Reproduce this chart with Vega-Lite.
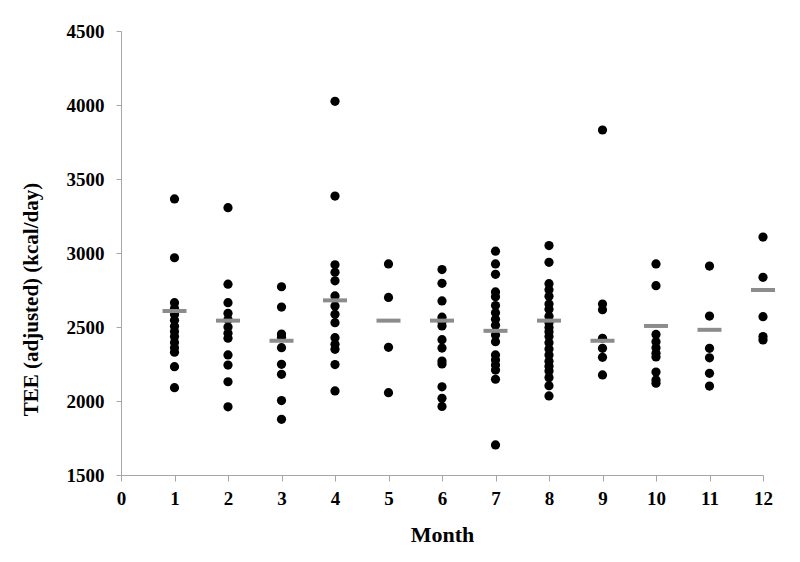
{
  "$schema": "https://vega.github.io/schema/vega-lite/v6.json",
  "width": 642,
  "height": 444,
  "autosize": "none",
  "padding": {"left": 121, "top": 31, "right": 37, "bottom": 87},
  "background": "white",
  "config": {
    "view": {"stroke": null},
    "font": "Liberation Serif"
  },
  "datasets": {
    "points": [
      {"month": 1, "tee": 3365}, {"month": 1, "tee": 2968}, {"month": 1, "tee": 2664}, {"month": 1, "tee": 2625}, {"month": 1, "tee": 2585}, {"month": 1, "tee": 2545}, {"month": 1, "tee": 2505}, {"month": 1, "tee": 2470}, {"month": 1, "tee": 2435}, {"month": 1, "tee": 2395}, {"month": 1, "tee": 2360}, {"month": 1, "tee": 2330}, {"month": 1, "tee": 2232}, {"month": 1, "tee": 2090},
      {"month": 2, "tee": 3306}, {"month": 2, "tee": 2789}, {"month": 2, "tee": 2664}, {"month": 2, "tee": 2593}, {"month": 2, "tee": 2550}, {"month": 2, "tee": 2500}, {"month": 2, "tee": 2457}, {"month": 2, "tee": 2424}, {"month": 2, "tee": 2311}, {"month": 2, "tee": 2243}, {"month": 2, "tee": 2130}, {"month": 2, "tee": 1961},
      {"month": 3, "tee": 2772}, {"month": 3, "tee": 2635}, {"month": 3, "tee": 2452}, {"month": 3, "tee": 2430}, {"month": 3, "tee": 2360}, {"month": 3, "tee": 2248}, {"month": 3, "tee": 2180}, {"month": 3, "tee": 2003}, {"month": 3, "tee": 1876},
      {"month": 4, "tee": 4025}, {"month": 4, "tee": 3385}, {"month": 4, "tee": 2920}, {"month": 4, "tee": 2870}, {"month": 4, "tee": 2812}, {"month": 4, "tee": 2710}, {"month": 4, "tee": 2642}, {"month": 4, "tee": 2586}, {"month": 4, "tee": 2529}, {"month": 4, "tee": 2428}, {"month": 4, "tee": 2383}, {"month": 4, "tee": 2349}, {"month": 4, "tee": 2246}, {"month": 4, "tee": 2068},
      {"month": 5, "tee": 2926}, {"month": 5, "tee": 2700}, {"month": 5, "tee": 2363}, {"month": 5, "tee": 2056},
      {"month": 6, "tee": 2888}, {"month": 6, "tee": 2795}, {"month": 6, "tee": 2676}, {"month": 6, "tee": 2566}, {"month": 6, "tee": 2536}, {"month": 6, "tee": 2507}, {"month": 6, "tee": 2414}, {"month": 6, "tee": 2358}, {"month": 6, "tee": 2270}, {"month": 6, "tee": 2250}, {"month": 6, "tee": 2096}, {"month": 6, "tee": 2018}, {"month": 6, "tee": 1963},
      {"month": 7, "tee": 3012}, {"month": 7, "tee": 2926}, {"month": 7, "tee": 2856}, {"month": 7, "tee": 2737}, {"month": 7, "tee": 2705}, {"month": 7, "tee": 2645}, {"month": 7, "tee": 2596}, {"month": 7, "tee": 2552}, {"month": 7, "tee": 2512}, {"month": 7, "tee": 2446}, {"month": 7, "tee": 2401}, {"month": 7, "tee": 2311}, {"month": 7, "tee": 2277}, {"month": 7, "tee": 2243}, {"month": 7, "tee": 2209}, {"month": 7, "tee": 2147}, {"month": 7, "tee": 1703},
      {"month": 8, "tee": 3050}, {"month": 8, "tee": 2937}, {"month": 8, "tee": 2793}, {"month": 8, "tee": 2752}, {"month": 8, "tee": 2708}, {"month": 8, "tee": 2655}, {"month": 8, "tee": 2620}, {"month": 8, "tee": 2572}, {"month": 8, "tee": 2529}, {"month": 8, "tee": 2497}, {"month": 8, "tee": 2468}, {"month": 8, "tee": 2436}, {"month": 8, "tee": 2394}, {"month": 8, "tee": 2352}, {"month": 8, "tee": 2310}, {"month": 8, "tee": 2268}, {"month": 8, "tee": 2234}, {"month": 8, "tee": 2202}, {"month": 8, "tee": 2158}, {"month": 8, "tee": 2103}, {"month": 8, "tee": 2034},
      {"month": 9, "tee": 3831}, {"month": 9, "tee": 2655}, {"month": 9, "tee": 2617}, {"month": 9, "tee": 2424}, {"month": 9, "tee": 2356}, {"month": 9, "tee": 2295}, {"month": 9, "tee": 2176},
      {"month": 10, "tee": 2926}, {"month": 10, "tee": 2779}, {"month": 10, "tee": 2450}, {"month": 10, "tee": 2400}, {"month": 10, "tee": 2360}, {"month": 10, "tee": 2322}, {"month": 10, "tee": 2298}, {"month": 10, "tee": 2196}, {"month": 10, "tee": 2142}, {"month": 10, "tee": 2120},
      {"month": 11, "tee": 2912}, {"month": 11, "tee": 2574}, {"month": 11, "tee": 2356}, {"month": 11, "tee": 2292}, {"month": 11, "tee": 2187}, {"month": 11, "tee": 2101},
      {"month": 12, "tee": 3108}, {"month": 12, "tee": 2836}, {"month": 12, "tee": 2570}, {"month": 12, "tee": 2435}, {"month": 12, "tee": 2413}
    ],
    "means": [
      {"month": 1, "mean": 2608}, {"month": 2, "mean": 2543}, {"month": 3, "mean": 2407}, {"month": 4, "mean": 2680},
      {"month": 5, "mean": 2543}, {"month": 6, "mean": 2543}, {"month": 7, "mean": 2474}, {"month": 8, "mean": 2543},
      {"month": 9, "mean": 2407}, {"month": 10, "mean": 2507}, {"month": 11, "mean": 2481}, {"month": 12, "mean": 2750}
    ]
  },
  "encoding": {
    "x": {
      "type": "quantitative",
      "scale": {"domain": [0, 12], "nice": false, "zero": true},
      "axis": {
        "title": "Month",
        "values": [0,1,2,3,4,5,6,7,8,9,10,11,12],
        "format": "d",
        "grid": false,
        "domainColor": "#a6a6a6",
        "tickColor": "#a6a6a6",
        "tickSize": 6,
        "labelPadding": 8,
        "labelFont": "Liberation Serif",
        "labelFontSize": 19,
        "labelFontWeight": "bold",
        "labelColor": "black",
        "labelFlush": false,
        "titleFont": "Liberation Serif",
        "titleFontSize": 22,
        "titleFontWeight": "bold",
        "titleColor": "black",
        "titlePadding": 16
      }
    },
    "y": {
      "type": "quantitative",
      "scale": {"domain": [1500, 4500], "nice": false, "zero": false},
      "axis": {
        "title": "TEE (adjusted)  (kcal/day)",
        "values": [1500, 2000, 2500, 3000, 3500, 4000, 4500],
        "format": "d",
        "grid": false,
        "domainColor": "#a6a6a6",
        "tickColor": "#a6a6a6",
        "tickSize": 5,
        "labelPadding": 12,
        "labelFont": "Liberation Serif",
        "labelFontSize": 19,
        "labelFontWeight": "bold",
        "labelColor": "black",
        "labelFlush": false,
        "titleFont": "Liberation Serif",
        "titleFontSize": 21,
        "titleFontWeight": "bold",
        "titleColor": "black",
        "titleAngle": -90,
        "titleAlign": "center",
        "titleBaseline": "middle",
        "titleX": -90,
        "titleY": 268
      }
    }
  },
  "layer": [
    {
      "data": {"name": "points"},
      "mark": {"type": "circle", "size": 85, "color": "black", "opacity": 1},
      "encoding": {
        "x": {"field": "month"},
        "y": {"field": "tee"}
      }
    },
    {
      "data": {"name": "means"},
      "mark": {"type": "tick", "orient": "horizontal", "size": 24, "thickness": 4, "color": "#8c8c8c", "opacity": 1},
      "encoding": {
        "x": {"field": "month"},
        "y": {"field": "mean"}
      }
    }
  ]
}
